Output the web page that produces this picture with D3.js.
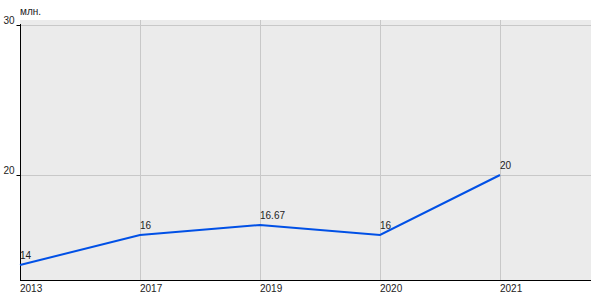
<!DOCTYPE html>
<html>
<head>
<meta charset="utf-8">
<script src="https://cdn.jsdelivr.net/npm/d3@7"></script>
<style>
  body { margin: 0; background: #fff; }
  text { font-family: "Liberation Sans", Arial, sans-serif; font-size: 10px; fill: #222; }
</style>
</head>
<body>
<div class="chart"></div>
<script>
var years = ["2013", "2017", "2019", "2020", "2021"];
var values = [14, 16, 16.67, 16, 20];
var valueLabels = ["14", "16", "16.67", "16", "20"];
var yTicks = [20, 30];
var unitLabel = "млн.";

drawline();

function drawline() {
  var svgWidth = 600, svgHeight = 300;
  var left = 20, right = 591, top = 20, bottom = 280;

  var svg = d3.select(".chart")
    .append("svg")
      .attr("width", svgWidth)
      .attr("height", svgHeight);

  var x = d3.scalePoint()
    .domain(years)
    .range([left, 500]);

  var y = d3.scaleLinear()
    .domain([13, 30])
    .range([bottom, 25]);

  // plot background
  svg.append("rect")
    .attr("x", left)
    .attr("y", top)
    .attr("width", right - left)
    .attr("height", bottom - top)
    .attr("fill", "#ebebeb");

  // vertical grid
  svg.selectAll(".vgrid")
    .data(years.slice(1))
    .enter()
    .append("line")
      .attr("x1", function(d){ return x(d) + 0.5 })
      .attr("x2", function(d){ return x(d) + 0.5 })
      .attr("y1", top)
      .attr("y2", bottom)
      .attr("stroke", "#c8c8c8");

  // horizontal grid
  svg.selectAll(".hgrid")
    .data(yTicks)
    .enter()
    .append("line")
      .attr("x1", left)
      .attr("x2", right)
      .attr("y1", function(d){ return y(d) + 0.5 })
      .attr("y2", function(d){ return y(d) + 0.5 })
      .attr("stroke", "#c8c8c8");

  // y axis
  var yAxis = d3.axisLeft(y)
    .tickValues(yTicks)
    .tickSize(4)
    .tickSizeOuter(0)
    .tickPadding(2);

  var gy = svg.append("g")
    .attr("transform", "translate(" + (left + 0.5) + ",0)")
    .call(yAxis);
  gy.select(".domain").attr("stroke", "#000").attr("d", "M0," + (y(30) - 1) + "V" + bottom);
  gy.selectAll(".tick line").attr("stroke", "#000");
  gy.selectAll(".tick text")
    .attr("font-family", null).attr("font-size", null)
    .attr("dy", "-0.2em");

  // x axis
  svg.append("line")
    .attr("x1", left)
    .attr("x2", right)
    .attr("y1", bottom + 0.5)
    .attr("y2", bottom + 0.5)
    .attr("stroke", "#000");

  svg.selectAll(".xlab")
    .data(years)
    .enter()
    .append("text")
      .attr("x", function(d){ return x(d) })
      .attr("y", bottom + 12)
      .text(function(d){ return d });

  svg.append("text")
    .attr("x", left)
    .attr("y", 15)
    .text(unitLabel);

  // series
  var line = d3.line()
    .x(function(d, i){ return x(years[i]) })
    .y(function(d){ return y(d) });

  svg.append("path")
    .datum(values)
    .attr("d", line)
    .attr("fill", "none")
    .attr("stroke", "#0050e6")
    .attr("stroke-width", 2);

  svg.selectAll(".vlab")
    .data(values)
    .enter()
    .append("text")
      .attr("x", function(d, i){ return x(years[i]) })
      .attr("y", function(d){ return y(d) - 6 })
      .text(function(d, i){ return valueLabels[i] });
}
</script>
</body>
</html>
